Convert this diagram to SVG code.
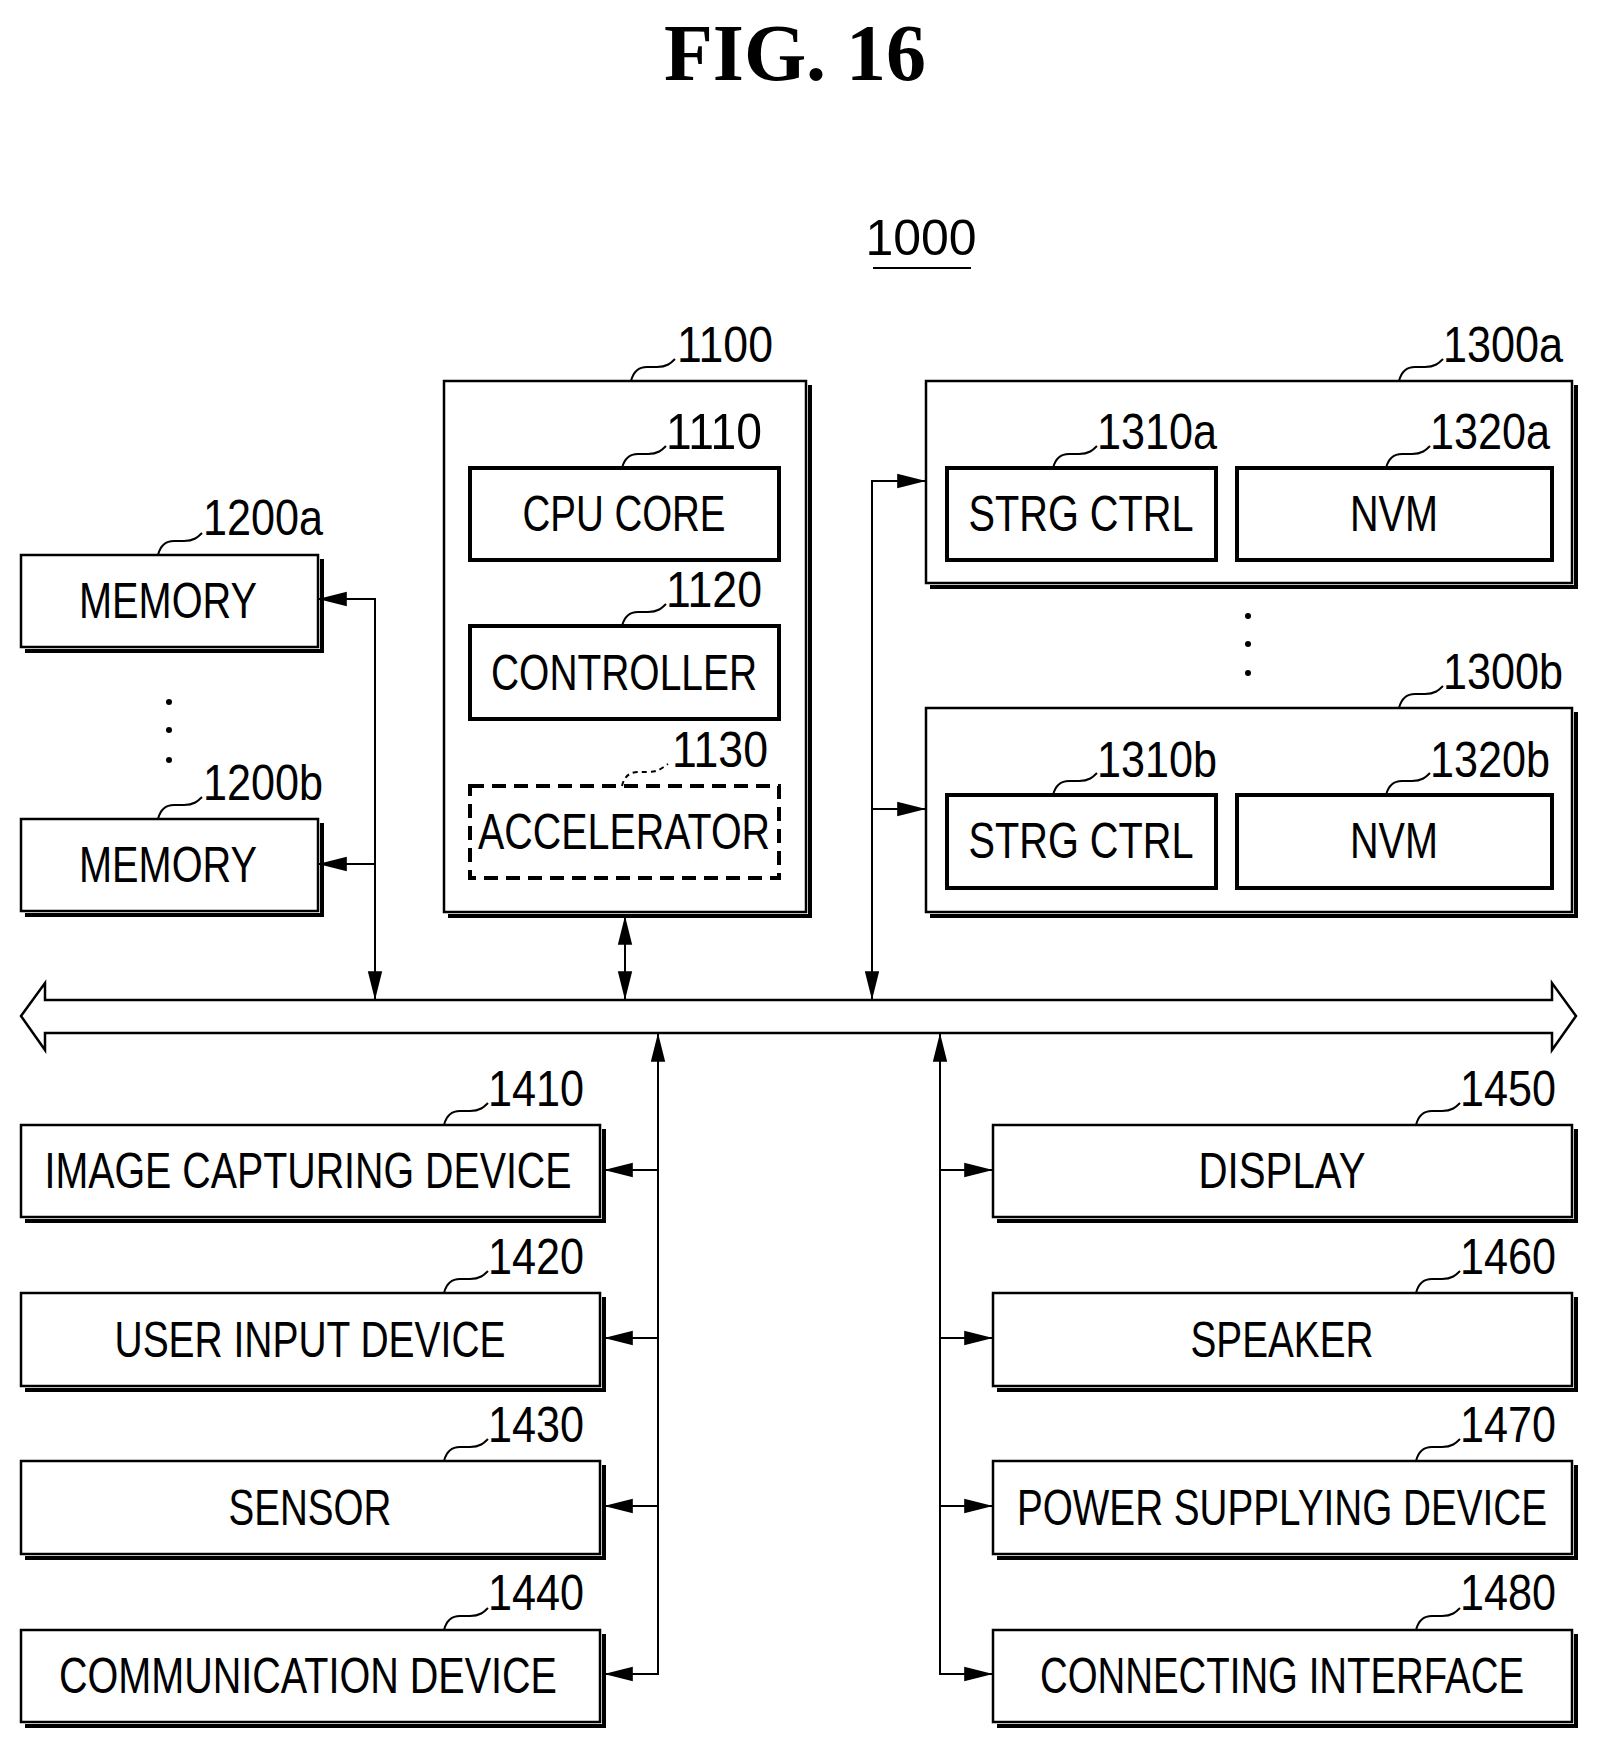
<svg xmlns="http://www.w3.org/2000/svg" width="1605" height="1755" viewBox="0 0 1605 1755">
<defs>
<style>
text{font-family:"Liberation Sans",Arial,sans-serif;fill:#000}
.t{font-size:50px;text-anchor:middle}
.n{font-size:50px}
.b{fill:#fff;stroke:#000;stroke-width:2.5}
.in{fill:#fff;stroke:#000;stroke-width:4}
.sh{fill:none;stroke:#000;stroke-width:4}
.ld{fill:none;stroke:#000;stroke-width:2}
.c{fill:none;stroke:#000;stroke-width:2}
</style>
<marker id="w" viewBox="0 0 16 10" refX="16" refY="5" markerWidth="30" markerHeight="18" markerUnits="userSpaceOnUse" orient="auto-start-reverse"><path d="M0,1 L16,5 L0,9 z" fill="#000"/></marker>
</defs>
<text x="795" y="80" style="font-family:'Liberation Serif',serif;font-size:80px;font-weight:bold" text-anchor="middle">FIG. 16</text>
<text x="921" y="255" class="t">1000</text>
<line x1="873" y1="268" x2="971" y2="268" stroke="#000" stroke-width="2"/>

<g id="n1100"><rect class="b" x="444" y="381" width="362" height="531"/><polyline class="sh" points="810,385 810,916 448,916"/>
<path class="ld" d="M631,381 c2,-8 6,-14 16,-14 h10 c10,0 14,-4 18,-8"/><text class="n" x="677" y="362" textLength="96" lengthAdjust="spacingAndGlyphs">1100</text></g>
<g id="n1110"><rect class="in" x="470" y="468" width="309" height="92"/><text class="t" x="624" y="531" textLength="203" lengthAdjust="spacingAndGlyphs">CPU CORE</text>
<path class="ld" d="M622,468 c2,-8 6,-14 16,-14 h10 c10,0 14,-4 18,-8"/><text class="n" x="666" y="449" textLength="96" lengthAdjust="spacingAndGlyphs">1110</text></g>
<g id="n1120"><rect class="in" x="470" y="626" width="309" height="93"/><text class="t" x="624" y="690" textLength="266" lengthAdjust="spacingAndGlyphs">CONTROLLER</text>
<path class="ld" d="M622,626 c2,-8 6,-14 16,-14 h10 c10,0 14,-4 18,-8"/><text class="n" x="666" y="607" textLength="96" lengthAdjust="spacingAndGlyphs">1120</text></g>
<g id="n1130"><rect x="470" y="786" width="309" height="92" fill="#fff" stroke="#000" stroke-width="4" stroke-dasharray="14,8"/><text class="t" x="624" y="849" textLength="292" lengthAdjust="spacingAndGlyphs">ACCELERATOR</text>
<path class="ld" stroke-dasharray="5,4" d="M622,786 c2,-8 6,-14 16,-14 h10 c10,0 14,-4 20,-8"/><text class="n" x="672" y="767" textLength="96" lengthAdjust="spacingAndGlyphs">1130</text></g>

<g id="n1200a"><rect class="b" x="21" y="555" width="297" height="92"/><polyline class="sh" points="322,559 322,651 25,651"/><text class="t" x="168" y="618" textLength="178" lengthAdjust="spacingAndGlyphs">MEMORY</text>
<path class="ld" d="M158,555 c2,-8 6,-14 16,-14 h10 c10,0 14,-4 18,-8"/><text class="n" x="203" y="535" textLength="120" lengthAdjust="spacingAndGlyphs">1200a</text></g>
<g id="n1200b"><rect class="b" x="21" y="819" width="297" height="92"/><polyline class="sh" points="322,823 322,915 25,915"/><text class="t" x="168" y="882" textLength="178" lengthAdjust="spacingAndGlyphs">MEMORY</text>
<path class="ld" d="M158,819 c2,-8 6,-14 16,-14 h10 c10,0 14,-4 18,-8"/><text class="n" x="203" y="800" textLength="120" lengthAdjust="spacingAndGlyphs">1200b</text></g>
<g fill="#000"><circle cx="169" cy="702" r="3"/><circle cx="169" cy="730" r="3"/><circle cx="169" cy="760" r="3"/>
<circle cx="1248" cy="616" r="3"/><circle cx="1248" cy="644" r="3"/><circle cx="1248" cy="673" r="3"/></g>

<g id="n1300a"><rect class="b" x="926" y="381" width="646" height="202"/><polyline class="sh" points="1576,385 1576,587 930,587"/>
<path class="ld" d="M1399,381 c2,-8 6,-14 16,-14 h10 c10,0 14,-4 18,-8"/><text class="n" x="1443" y="362" textLength="120" lengthAdjust="spacingAndGlyphs">1300a</text>
<rect class="in" x="947" y="468" width="269" height="92"/><text class="t" x="1081" y="531" textLength="225" lengthAdjust="spacingAndGlyphs">STRG CTRL</text>
<path class="ld" d="M1053,468 c2,-8 6,-14 16,-14 h10 c10,0 14,-4 18,-8"/><text class="n" x="1097" y="449" textLength="120" lengthAdjust="spacingAndGlyphs">1310a</text>
<rect class="in" x="1237" y="468" width="315" height="92"/><text class="t" x="1394" y="531" textLength="88" lengthAdjust="spacingAndGlyphs">NVM</text>
<path class="ld" d="M1386,468 c2,-8 6,-14 16,-14 h10 c10,0 14,-4 18,-8"/><text class="n" x="1430" y="449" textLength="120" lengthAdjust="spacingAndGlyphs">1320a</text></g>
<g id="n1300b"><rect class="b" x="926" y="708" width="646" height="204"/><polyline class="sh" points="1576,712 1576,916 930,916"/>
<path class="ld" d="M1399,708 c2,-8 6,-14 16,-14 h10 c10,0 14,-4 18,-8"/><text class="n" x="1443" y="689" textLength="120" lengthAdjust="spacingAndGlyphs">1300b</text>
<rect class="in" x="947" y="795" width="269" height="93"/><text class="t" x="1081" y="858" textLength="225" lengthAdjust="spacingAndGlyphs">STRG CTRL</text>
<path class="ld" d="M1053,795 c2,-8 6,-14 16,-14 h10 c10,0 14,-4 18,-8"/><text class="n" x="1097" y="777" textLength="120" lengthAdjust="spacingAndGlyphs">1310b</text>
<rect class="in" x="1237" y="795" width="315" height="93"/><text class="t" x="1394" y="858" textLength="88" lengthAdjust="spacingAndGlyphs">NVM</text>
<path class="ld" d="M1386,795 c2,-8 6,-14 16,-14 h10 c10,0 14,-4 18,-8"/><text class="n" x="1430" y="777" textLength="120" lengthAdjust="spacingAndGlyphs">1320b</text></g>

<g id="n1410"><rect class="b" x="21" y="1125" width="579" height="92"/><polyline class="sh" points="604,1129 604,1221 25,1221"/><text class="t" x="308" y="1188" textLength="527" lengthAdjust="spacingAndGlyphs">IMAGE CAPTURING DEVICE</text>
<path class="ld" d="M444,1125 c2,-8 6,-14 16,-14 h10 c10,0 14,-4 18,-8"/><text class="n" x="488" y="1106" textLength="96" lengthAdjust="spacingAndGlyphs">1410</text></g>
<g id="n1420"><rect class="b" x="21" y="1293" width="579" height="93"/><polyline class="sh" points="604,1297 604,1390 25,1390"/><text class="t" x="310" y="1357" textLength="391" lengthAdjust="spacingAndGlyphs">USER INPUT DEVICE</text>
<path class="ld" d="M444,1293 c2,-8 6,-14 16,-14 h10 c10,0 14,-4 18,-8"/><text class="n" x="488" y="1274" textLength="96" lengthAdjust="spacingAndGlyphs">1420</text></g>
<g id="n1430"><rect class="b" x="21" y="1461" width="579" height="93"/><polyline class="sh" points="604,1465 604,1558 25,1558"/><text class="t" x="310" y="1525" textLength="163" lengthAdjust="spacingAndGlyphs">SENSOR</text>
<path class="ld" d="M444,1461 c2,-8 6,-14 16,-14 h10 c10,0 14,-4 18,-8"/><text class="n" x="488" y="1442" textLength="96" lengthAdjust="spacingAndGlyphs">1430</text></g>
<g id="n1440"><rect class="b" x="21" y="1630" width="579" height="92"/><polyline class="sh" points="604,1634 604,1726 25,1726"/><text class="t" x="308" y="1693" textLength="498" lengthAdjust="spacingAndGlyphs">COMMUNICATION DEVICE</text>
<path class="ld" d="M444,1630 c2,-8 6,-14 16,-14 h10 c10,0 14,-4 18,-8"/><text class="n" x="488" y="1610" textLength="96" lengthAdjust="spacingAndGlyphs">1440</text></g>

<g id="n1450"><rect class="b" x="993" y="1125" width="579" height="92"/><polyline class="sh" points="1576,1129 1576,1221 997,1221"/><text class="t" x="1282" y="1188" textLength="167" lengthAdjust="spacingAndGlyphs">DISPLAY</text>
<path class="ld" d="M1416,1125 c2,-8 6,-14 16,-14 h10 c10,0 14,-4 18,-8"/><text class="n" x="1460" y="1106" textLength="96" lengthAdjust="spacingAndGlyphs">1450</text></g>
<g id="n1460"><rect class="b" x="993" y="1293" width="579" height="93"/><polyline class="sh" points="1576,1297 1576,1390 997,1390"/><text class="t" x="1282" y="1357" textLength="183" lengthAdjust="spacingAndGlyphs">SPEAKER</text>
<path class="ld" d="M1416,1293 c2,-8 6,-14 16,-14 h10 c10,0 14,-4 18,-8"/><text class="n" x="1460" y="1274" textLength="96" lengthAdjust="spacingAndGlyphs">1460</text></g>
<g id="n1470"><rect class="b" x="993" y="1461" width="579" height="93"/><polyline class="sh" points="1576,1465 1576,1558 997,1558"/><text class="t" x="1282" y="1525" textLength="530" lengthAdjust="spacingAndGlyphs">POWER SUPPLYING DEVICE</text>
<path class="ld" d="M1416,1461 c2,-8 6,-14 16,-14 h10 c10,0 14,-4 18,-8"/><text class="n" x="1460" y="1442" textLength="96" lengthAdjust="spacingAndGlyphs">1470</text></g>
<g id="n1480"><rect class="b" x="993" y="1630" width="579" height="92"/><polyline class="sh" points="1576,1634 1576,1726 997,1726"/><text class="t" x="1282" y="1693" textLength="484" lengthAdjust="spacingAndGlyphs">CONNECTING INTERFACE</text>
<path class="ld" d="M1416,1630 c2,-8 6,-14 16,-14 h10 c10,0 14,-4 18,-8"/><text class="n" x="1460" y="1610" textLength="96" lengthAdjust="spacingAndGlyphs">1480</text></g>

<g id="connectors">
<path d="M21,1016 L45,983 L45,1000 L1552,1000 L1552,983 L1576,1016 L1552,1050 L1552,1033 L45,1033 L45,1050 Z" fill="#fff" stroke="#000" stroke-width="2.5"/>
<path class="c" d="M318,599 H375 V1000" marker-start="url(#w)" marker-end="url(#w)"/>
<path class="c" d="M375,864 H318" marker-end="url(#w)"/>
<path class="c" d="M625,916 V1000" marker-start="url(#w)" marker-end="url(#w)"/>
<path class="c" d="M926,481 H872 V1000" marker-start="url(#w)" marker-end="url(#w)"/>
<path class="c" d="M872,809 H926" marker-end="url(#w)"/>
<path class="c" d="M604,1674 H658 V1033" marker-start="url(#w)" marker-end="url(#w)"/>
<path class="c" d="M658,1170 H604" marker-end="url(#w)"/>
<path class="c" d="M658,1338 H604" marker-end="url(#w)"/>
<path class="c" d="M658,1506 H604" marker-end="url(#w)"/>
<path class="c" d="M993,1674 H940 V1033" marker-start="url(#w)" marker-end="url(#w)"/>
<path class="c" d="M940,1170 H993" marker-end="url(#w)"/>
<path class="c" d="M940,1338 H993" marker-end="url(#w)"/>
<path class="c" d="M940,1506 H993" marker-end="url(#w)"/>
</g>
</svg>
